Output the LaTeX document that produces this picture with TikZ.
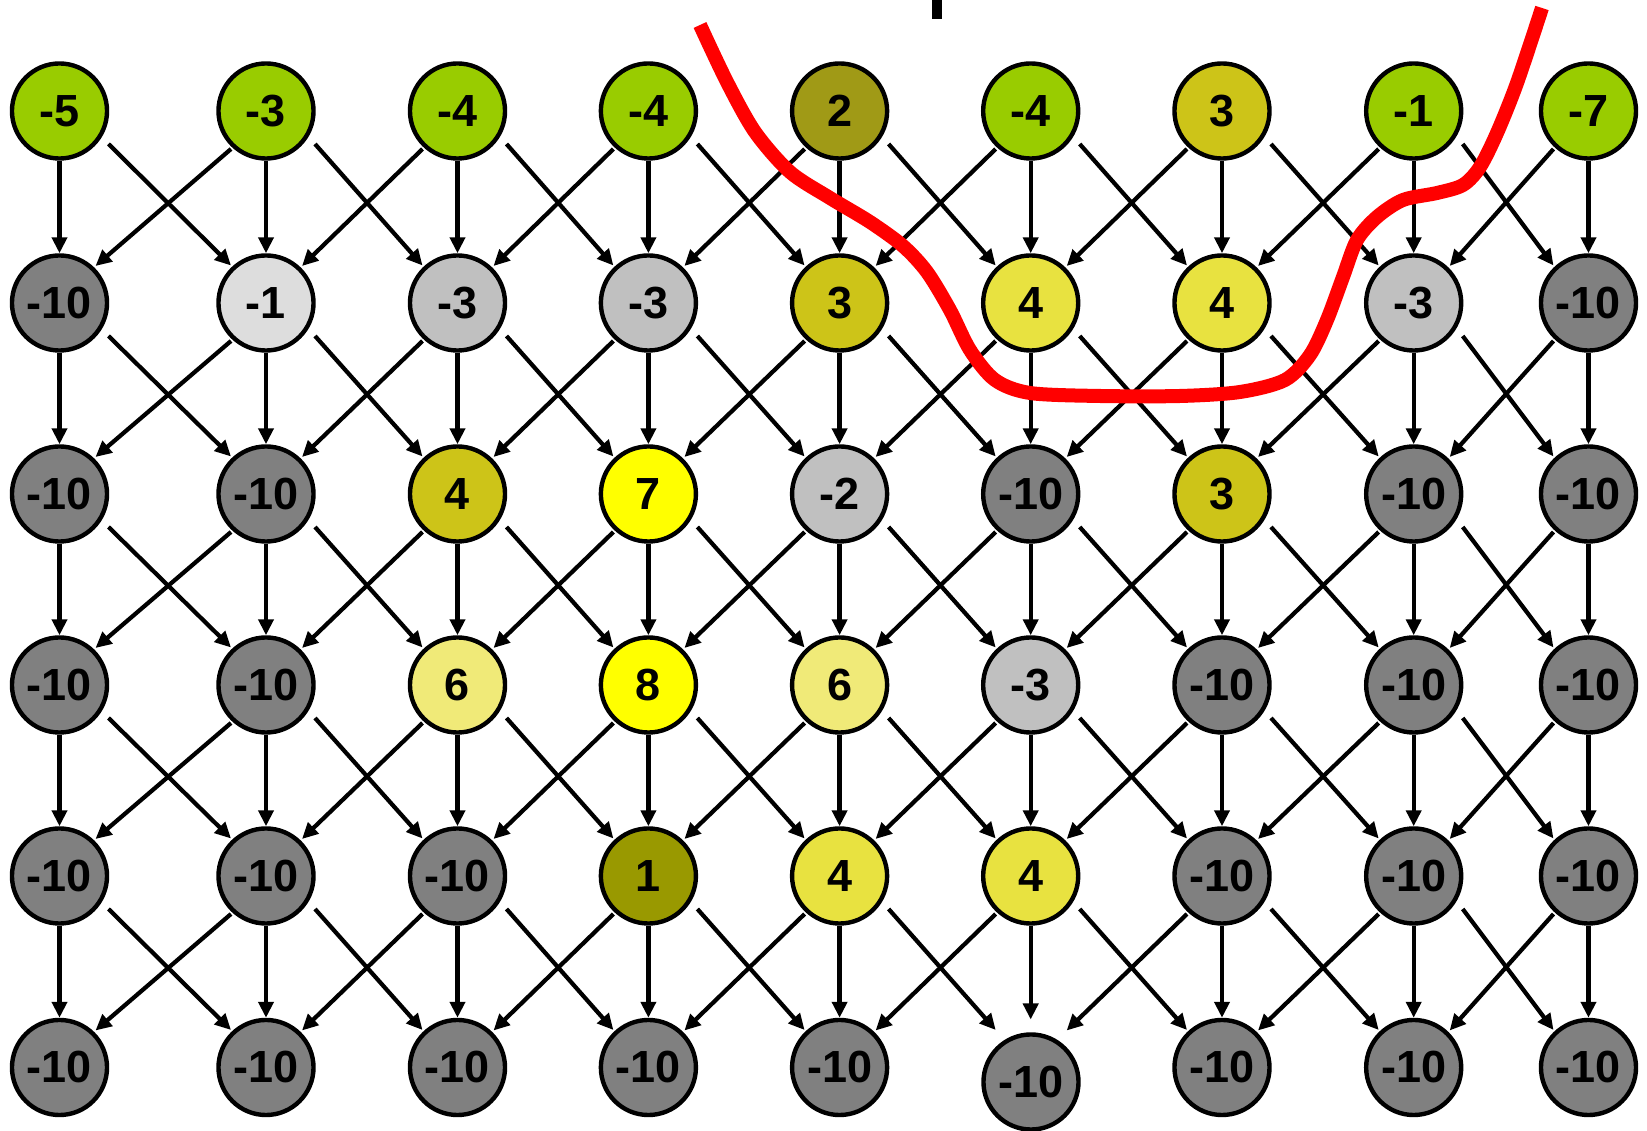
\documentclass[tikz,border=0pt]{standalone}
\usepackage{fontspec}
\setmainfont{Liberation Sans}
\usetikzlibrary{arrows.meta,calc}

\definecolor{cgreen}{RGB}{153,204,0}
\definecolor{colive}{RGB}{160,154,22}
\definecolor{cdkolive}{RGB}{153,153,0}
\definecolor{cmustard}{RGB}{205,196,24}
\definecolor{cyelmid}{RGB}{232,226,64}
\definecolor{cpale}{RGB}{240,234,120}
\definecolor{cyellow}{RGB}{255,255,0}
\definecolor{clgray}{RGB}{221,221,221}
\definecolor{cmgray}{RGB}{192,192,192}
\definecolor{cdgray}{RGB}{128,128,128}

\begin{document}
\begin{tikzpicture}[x=0.01cm,y=-0.01cm,
  cell/.style={circle,draw=black,line width=1.25pt,minimum size=0.95cm,
    inner sep=0pt,font=\fontsize{12.8}{15}\selectfont\bfseries},
  link/.style={line width=1.2pt,-{Triangle[length=0.16cm,width=0.15cm]}},
  cut/.style={red,line width=0.14cm}]

\useasboundingbox (0,0) rectangle (1647,1131);

% grid positions
\foreach \col/\x in {1/59.5,2/266,3/457.5,4/648.4,5/839.6,6/1030.7,7/1222,8/1413.7,9/1588.5}
  \foreach \row/\y in {1/111,2/303,3/494,4/685,5/876,6/1067.5}
    \coordinate (p\row\col) at (\x,\y);

% row 1
\foreach \col/\v/\f in {1/-5/cgreen,2/-3/cgreen,3/-4/cgreen,4/-4/cgreen,5/2/colive,
    6/-4/cgreen,7/3/cmustard,8/-1/cgreen,9/-7/cgreen}
  \node[cell,fill=\f] (n1\col) at (p1\col) {\v};
% row 2
\foreach \col/\v/\f in {1/-10/cdgray,2/-1/clgray,3/-3/cmgray,4/-3/cmgray,5/3/cmustard,
    6/4/cyelmid,7/4/cyelmid,8/-3/cmgray,9/-10/cdgray}
  \node[cell,fill=\f] (n2\col) at (p2\col) {\v};
% row 3
\foreach \col/\v/\f in {1/-10/cdgray,2/-10/cdgray,3/4/cmustard,4/7/cyellow,5/-2/cmgray,
    6/-10/cdgray,7/3/cmustard,8/-10/cdgray,9/-10/cdgray}
  \node[cell,fill=\f] (n3\col) at (p3\col) {\v};
% row 4
\foreach \col/\v/\f in {1/-10/cdgray,2/-10/cdgray,3/6/cpale,4/8/cyellow,5/6/cpale,
    6/-3/cmgray,7/-10/cdgray,8/-10/cdgray,9/-10/cdgray}
  \node[cell,fill=\f] (n4\col) at (p4\col) {\v};
% row 5
\foreach \col/\v/\f in {1/-10/cdgray,2/-10/cdgray,3/-10/cdgray,4/1/cdkolive,5/4/cyelmid,
    6/4/cyelmid,7/-10/cdgray,8/-10/cdgray,9/-10/cdgray}
  \node[cell,fill=\f] (n5\col) at (p5\col) {\v};
% row 6 (the sixth cell sits a little lower than its arrows)
\foreach \col in {1,2,3,4,5,7,8,9}
  \node[cell,fill=cdgray] (n6\col) at (p6\col) {-10};
\coordinate (g66) at (p66);
\node[cell,fill=cdgray] (n66) at (1031,1082) {-10};

% arrows between consecutive rows
\foreach \row in {1,...,5} {
  \pgfmathtruncatemacro\nxt{\row+1}
  \foreach \col in {1,...,9} {
    \pgfmathtruncatemacro\lft{\col-1}
    \pgfmathtruncatemacro\rgt{\col+1}
    \ifnum\nxt\col=66\relax
      \draw[link] (n\row\col.south) -- ($(g66)+(0,-48)$);
    \else
      \draw[link] (n\row\col.south) -- (n\nxt\col.north);
    \fi
    \ifnum\col<9\relax
      \ifnum\nxt\rgt=66\relax \def\tn{g66}\else\edef\tn{n\nxt\rgt}\fi
      \draw[link] ($(n\row\col)+(49,33)$) -- ($(\tn)+(-35,-37.5)$);
    \fi
    \ifnum\col>1\relax
      \ifnum\nxt\lft=66\relax \def\tn{g66}\else\edef\tn{n\nxt\lft}\fi
      \draw[link] ($(n\row\col)+(-35,38)$) -- ($(\tn)+(36,-37)$);
    \fi
  }
}

% small black mark at the top edge
\fill[black] (932,0) rectangle (942,19.5);

% red cut line
\draw[cut] plot[smooth,tension=0.5] coordinates {
  (700,25) (727,82) (755,132) (790,172) (830,198) (870,222) (903,246)
  (927,272) (950,310) (970,350) (995,380) (1030,393) (1100,396) (1180,396)
  (1240,392) (1285,380) (1310,355) (1327,320) (1343,277) (1357,240)
  (1377,217) (1403,200) (1437,193) (1463,185) (1480,167) (1497,133)
  (1517,83) (1542,8)};

\end{tikzpicture}
\end{document}
